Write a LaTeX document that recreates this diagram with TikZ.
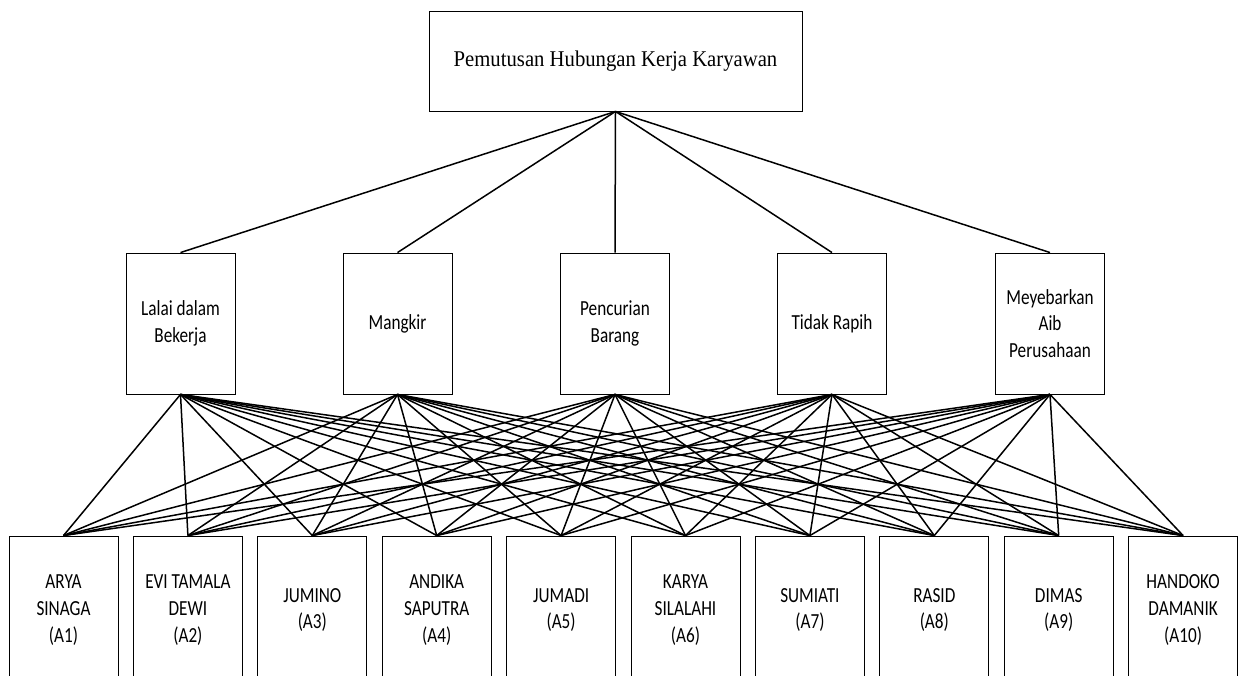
\documentclass[tikz,border=0pt]{standalone}
\usepackage{fontspec}
\newfontfamily\calfont[FakeStretch=0.8]{Carlito}
\newfontfamily\topfont[FakeStretch=0.92]{Liberation Serif}
\begin{document}
\begin{tikzpicture}[x=1pt,y=-1pt,
  topbox/.style={draw, line width=0.9pt, minimum width=373pt, minimum height=100pt, inner sep=0pt,
    font={\topfont\fontsize{22.5}{27}\selectfont}},
  midbox/.style={draw, line width=0.9pt, minimum width=109pt, minimum height=141pt, inner sep=0pt, align=center,
    font={\calfont\fontsize{21.5}{26.7}\selectfont}},
  botbox/.style={draw, line width=0.9pt, minimum width=109pt, minimum height=148pt, inner sep=0pt, align=center,
    font={\calfont\fontsize{21.5}{26.7}\selectfont}},
  conn/.style={line width=1.5pt}]
\useasboundingbox (0,0) rectangle (1244,675);
\clip (0,0) rectangle (1244,675);
\node[topbox] (top) at (615.5,61) {Pemutusan Hubungan Kerja Karyawan};
\node[midbox] (m1) at (180.5,323.5) {Lalai dalam\\Bekerja};
\node[midbox] (m2) at (397.5,323.5) {Mangkir};
\node[midbox] (m3) at (615,323.5) {Pencurian\\Barang};
\node[midbox] (m4) at (832,323.5) {Tidak Rapih};
\node[midbox] (m5) at (1050,323.5) {Meyebarkan\\Aib\\Perusahaan};
\node[botbox] (b1) at (63.5,610) {ARYA\\SINAGA\\(A1)};
\node[botbox] (b2) at (187.9,610) {EVI TAMALA\\DEWI\\(A2)};
\node[botbox] (b3) at (312.3,610) {JUMINO\\(A3)};
\node[botbox] (b4) at (436.7,610) {ANDIKA\\SAPUTRA\\(A4)};
\node[botbox] (b5) at (561.1,610) {JUMADI\\(A5)};
\node[botbox] (b6) at (685.5,610) {KARYA\\SILALAHI\\(A6)};
\node[botbox] (b7) at (809.9,610) {SUMIATI\\(A7)};
\node[botbox] (b8) at (934.3,610) {RASID\\(A8)};
\node[botbox] (b9) at (1058.7,610) {DIMAS\\(A9)};
\node[botbox] (b10) at (1183.1,610) {HANDOKO\\DAMANIK\\(A10)};
\foreach \m in {1,...,5} {
  \draw[conn] (top.south) -- (m\m.north);
  \foreach \b in {1,...,10} {
    \draw[conn] (m\m.south) -- (b\b.north);
  }
}
\end{tikzpicture}
\end{document}
